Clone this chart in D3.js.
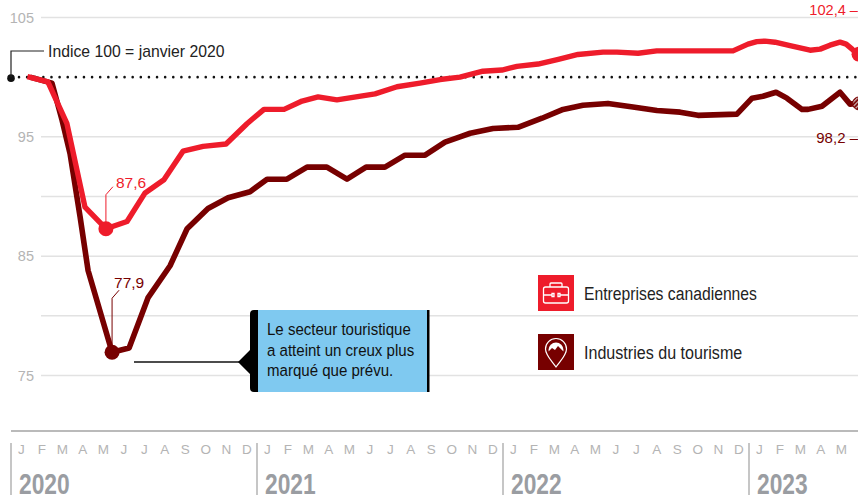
<!DOCTYPE html>
<html lang="fr"><head><meta charset="utf-8">
<script src="https://cdn.jsdelivr.net/npm/d3@7/dist/d3.min.js"></script>
<style>
html,body{margin:0;padding:0;background:#fff;overflow:hidden}
svg{display:block}
text{font-family:"Liberation Sans",Arial,sans-serif}
</style></head><body>
<div id="chart"></div>
<script>
// Data. Months are counted from January 2020 = 0 (fractions: as drawn).
const years = [2020, 2021, 2022, 2023];
const monthLetters = ["J","F","M","A","M","J","J","A","S","O","N","D"];
const lastYearMonths = 6;
const gridValues = [75, 80, 85, 90, 95, 105];
const yTickValues = [75, 85, 95, 105];
const baseIndex = 100;

const businessMonths = [0.30,1.30,2.23,3.11,4.13,5.16,6.04,6.96,7.89,8.87,9.99,11.01,11.84,12.82,13.70,14.48,15.40,17.26,18.33,19.45,20.43,21.40,22.52,23.45,24.18,25.21,26.20,27.16,28.38,29.06,30.09,31.00,32.14,34.72,35.45,35.88,36.28,36.77,37.50,38.48,38.97,39.45,39.94,40.24,40.53,40.77];
const businessValues = [100.05,99.6,96.1,89.1,87.3,87.9,90.3,91.4,93.8,94.2,94.4,96.1,97.3,97.3,98.0,98.35,98.1,98.6,99.2,99.5,99.8,100.0,100.5,100.6,100.9,101.1,101.5,101.9,102.1,102.1,102.0,102.2,102.2,102.2,102.77,102.98,103.02,102.93,102.64,102.26,102.35,102.68,102.93,102.77,102.35,101.93];

const tourismMonths = [0.43,1.50,1.99,2.38,2.87,3.26,4.43,5.26,6.18,7.26,8.09,9.11,10.09,11.16,11.99,12.96,13.94,14.91,15.89,16.82,17.74,18.72,19.70,20.67,21.40,21.90,23.01,24.23,25.40,26.43,27.40,28.62,29.84,31.01,32.14,33.01,34.91,35.65,36.18,36.82,37.35,38.09,38.38,39.06,39.94,40.43,40.77];
const tourismValues = [100,99.5,96.4,93.6,88.3,83.8,76.95,77.3,81.5,84.2,87.3,89,89.9,90.4,91.45,91.45,92.46,92.46,91.45,92.46,92.46,93.46,93.46,94.55,95,95.3,95.7,95.8,96.56,97.3,97.65,97.8,97.5,97.2,97.07,96.8,96.9,98.24,98.4,98.74,98.24,97.3,97.3,97.57,98.74,97.74,97.8];

const labelBusinessMin = "87,6", labelTourismMin = "77,9";
const labelBusinessEnd = "102,4 –", labelTourismEnd = "98,2 –";
const legendLabels = ["Entreprises canadiennes", "Industries du tourisme"];
const legendSqueeze = [0.85, 0.87];
const noteLines = ["Le secteur touristique", "a atteint un creux plus", "marqué que prévu."];
const baseLabel = "Indice 100 = janvier 2020";

const RED = "#ee1c2b", DARK = "#770000", GREY = "#b4b4b4";
const W = 858, H = 495;
const svg = d3.select("#chart").append("svg").attr("width", W).attr("height", H).attr("viewBox", `0 0 ${W} ${H}`);
const x = d3.scaleLinear().domain([0, 12]).range([21.25, 267.25]);
const y = d3.scaleLinear().domain([75, 105]).range([375.5, 17.5]);
const tickX = yi => x(yi * 12 - 0.5);

// hatch for the last (forecast) tourism point
svg.append("defs").append("pattern").attr("id","hatch").attr("width",3).attr("height",3)
  .attr("patternUnits","userSpaceOnUse").attr("patternTransform","rotate(45)")
  .call(p => { p.append("rect").attr("width",3).attr("height",3).attr("fill",DARK);
               p.append("rect").attr("width",1.2).attr("height",3).attr("fill","#d9c4c4"); });

// grid
svg.append("g").selectAll("line").data(gridValues).join("line")
  .attr("x1", 41).attr("x2", W).attr("y1", d => y(d)).attr("y2", d => y(d))
  .attr("stroke", "#e2e2e2").attr("stroke-width", 1.5);

// y labels
const yAxis = svg.append("g").attr("transform", "translate(34,0)")
  .call(d3.axisLeft(y).tickValues(yTickValues).tickSize(0).tickPadding(0));
yAxis.select(".domain").remove();
yAxis.selectAll("text").attr("font-size", 14.5).attr("fill", GREY)
  .style("font-family", '"Liberation Sans",sans-serif');

// baseline 100
svg.append("line").attr("x1", 19).attr("x2", W).attr("y1", y(baseIndex)).attr("y2", y(baseIndex))
  .attr("stroke", "#111").attr("stroke-width", 2.6).attr("stroke-linecap", "round")
  .attr("stroke-dasharray", "0 8.12");
svg.append("circle").attr("cx", 11).attr("cy", y(baseIndex) + 1).attr("r", 3.8).attr("fill", "#111");
svg.append("path").attr("d", `M11 ${y(baseIndex)}V51H44`).attr("fill", "none").attr("stroke", "#222").attr("stroke-width", 1.2);
svg.append("text").attr("x", 48).attr("y", 57).attr("font-size", 15.75).attr("fill", "#222").text(baseLabel);

// lines
const zip = (ms, vs) => ms.map((m, i) => [m, vs[i]]);
const line = d3.line().x(d => x(d[0])).y(d => y(d[1]));
const tourism = zip(tourismMonths, tourismValues), business = zip(businessMonths, businessValues);
svg.append("path").datum(tourism).attr("d", line).attr("fill","none").attr("stroke",DARK).attr("stroke-width",5.6).attr("stroke-linejoin","round");
svg.append("path").datum(business).attr("d", line).attr("fill","none").attr("stroke",RED).attr("stroke-width",5.4).attr("stroke-linejoin","round");

// minimum markers with leaders
function minMark(series, color, label, r, rise, dx, dy) {
  const d = series.reduce((a, b) => b[1] < a[1] ? b : a);
  const cx = x(d[0]), cy = y(d[1]);
  const top = cy - rise;
  svg.append("path").attr("d", `M${cx} ${cy}V${top}l7 -8`).attr("fill","none").attr("stroke",color).attr("stroke-width",1);
  svg.append("circle").attr("cx",cx).attr("cy",cy).attr("r",r).attr("fill",color);
  svg.append("text").attr("x",cx + dx).attr("y",top - dy).attr("font-size",15.5).attr("fill",color).text(label);
}
minMark(business, RED, labelBusinessMin, 7.5, 34, 10, 7);
minMark(tourism, DARK, labelTourismMin, 7.5, 54, 2, 10);

// end markers
const lastB = business[business.length - 1], lastT = tourism[tourism.length - 1];
svg.append("circle").attr("cx", x(lastB[0])+2).attr("cy", y(lastB[1])).attr("r", 7.5).attr("fill", RED);
svg.append("circle").attr("cx", x(lastT[0])+2).attr("cy", y(lastT[1])).attr("r", 6.5).attr("fill", "url(#hatch)").attr("stroke",DARK).attr("stroke-width",1);
svg.append("text").attr("x", W).attr("y", 15).attr("text-anchor","end").attr("font-size",14.6).attr("fill",RED).text(labelBusinessEnd);
svg.append("text").attr("x", W).attr("y", 143).attr("text-anchor","end").attr("font-size",15).attr("fill",DARK).text(labelTourismEnd);

// condensed text: no narrow face is installed, so the regular face is squeezed
const squeezed = (g, str, px, py, size, sx) => g.append("text")
  .attr("transform", `translate(${px},${py}) scale(${sx},1)`).attr("font-size", size).text(str);

// callout
const cOut = svg.append("g");
cOut.append("line").attr("x1",134).attr("x2",240).attr("y1",362).attr("y2",362).attr("stroke","#111").attr("stroke-width",1.5);
cOut.append("path").attr("d","M238 362L250 350V314Q250 310 254 310H258V392H254Q250 392 250 388V374Z").attr("fill","#000");
cOut.append("rect").attr("x",258).attr("y",310).attr("width",169).attr("height",82).attr("fill","#7fc9f0");
cOut.append("rect").attr("x",427).attr("y",310).attr("width",2.5).attr("height",82).attr("fill","#000");
noteLines.forEach((t, i) => squeezed(cOut, t, 267, 335 + i * 20.7, 17, 0.885).attr("fill","#111"));

// legend
const legend = svg.append("g");
const legY = [275, 334], legC = [RED, DARK];
legendLabels.forEach((t, i) => {
  legend.append("rect").attr("x",538).attr("y",legY[i]).attr("width",36).attr("height",36).attr("fill",legC[i]);
  squeezed(legend, t, 584, legY[i] + 24.5, 18.5, legendSqueeze[i]).attr("fill","#222");
});
// briefcase icon
const bc = legend.append("g").attr("fill","none").attr("stroke","#fff").attr("stroke-width",1.3);
bc.append("rect").attr("x",543.5).attr("y",287).attr("width",25).attr("height",16).attr("rx",2);
bc.append("path").attr("d","M550 287V284Q550 283 551 283H561Q562 283 562 284V287M543.5 295H552M560 295H568.5M552 293.5h2v3h-2zM558 293.5h2v3h-2z");
// pin icon
const pin = legend.append("g");
pin.append("path").attr("d","M556 367C551 360 545.5 355 545.5 349A10.5 10.5 0 0 1 566.5 349C566.5 355 561 360 556 367Z").attr("fill","none").attr("stroke","#fff").attr("stroke-width",1.2);
pin.append("circle").attr("cx",556).attr("cy",350).attr("r",7.5).attr("fill","#fff");
pin.append("path").attr("d","M548 352L552 348L555 350L558 346L564 352A8 8 0 0 1 548 352Z").attr("fill",DARK);

// time axis
svg.append("line").attr("x1",11).attr("x2",W).attr("y1",431).attr("y2",431).attr("stroke","#a3a3a3").attr("stroke-width",1.5);
const axG = svg.append("g");
years.forEach((yr, yi) => {
  axG.append("line").attr("x1",tickX(yi)).attr("x2",tickX(yi)).attr("y1",443).attr("y2",H).attr("stroke","#a8a8a8").attr("stroke-width",1.3);
  squeezed(axG, yr, tickX(yi) + 8, 494, 30, 0.76).attr("font-weight","bold").attr("fill","#9a9da2");
  const n = yi === years.length - 1 ? lastYearMonths : 12;
  monthLetters.slice(0, n).forEach((m, mi) => {
    axG.append("text").attr("x",x(yi*12+mi)).attr("y",454).attr("text-anchor","middle").attr("font-size",13.5).attr("fill",GREY).text(m);
  });
});
</script></body></html>
